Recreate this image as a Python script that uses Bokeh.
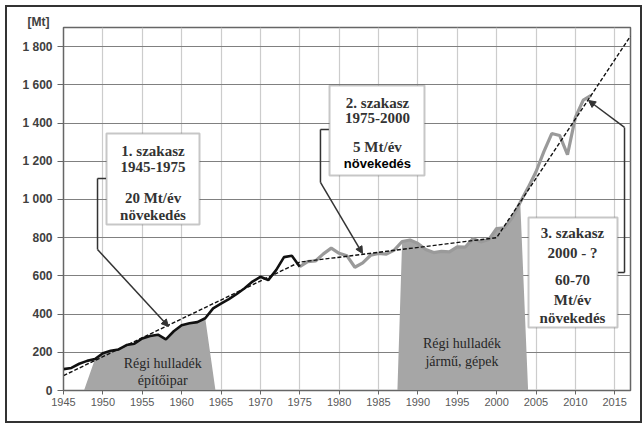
from bokeh.plotting import figure
from bokeh.layouts import column
from bokeh.models import Range1d, FixedTicker, Label, BoxAnnotation, Arrow, NormalHead
from bokeh.embed import file_html
from bokeh.resources import INLINE

# ---- data ----
years_p1 = list(range(1945, 1976))
prod_p1 = [112, 118, 140, 155, 165, 195, 208, 215, 238, 245, 272, 285, 292, 268, 310,
           342, 352, 358, 378, 430, 455, 478, 505, 535, 570, 595, 578, 630, 698, 705, 648]
years_p2 = list(range(1975, 2013))
prod_p2 = [648, 675, 678, 715, 745, 718, 705, 645, 668, 708, 718, 714, 735, 780, 788,
           770, 738, 722, 728, 726, 752, 750, 795, 778, 790, 848, 852, 905, 985, 1062,
           1145, 1250, 1345, 1335, 1235, 1430, 1520, 1545]
trend_years = [1945, 1975, 2000, 2017]
trend_vals = [78, 672, 800, 1855]

y_ticks = [0, 200, 400, 600, 800, 1000, 1200, 1400, 1600, 1800]
y_tick_labels = ["0", "200", "400", "600", "800", "1 000", "1 200", "1 400", "1 600", "1 800"]
x_ticks = [1945, 1950, 1955, 1960, 1965, 1970, 1975, 1980, 1985, 1990, 1995, 2000, 2005, 2010, 2015]

# shaded "old scrap" areas: edges + the production curve between them
area1_edges = (1947.6, 1964.3)
area1_span = (1949, 1963)
area2_edges = (1987.4, 2004.0)
area2_span = (1988, 2003)

def area(edges, span, years, vals):
    xs = [edges[0]]
    ys = [0]
    for yv, v in zip(years, vals):
        if span[0] <= yv <= span[1]:
            xs.append(yv)
            ys.append(v)
    xs.append(edges[1])
    ys.append(0)
    return xs, ys

a1x, a1y = area(area1_edges, area1_span, years_p1, prod_p1)
a2x, a2y = area(area2_edges, area2_span, years_p2, prod_p2)

# ---- figure ----
p = figure(width=633, height=414, output_backend="svg", toolbar_location=None,
           x_range=Range1d(1945, 2017), y_range=Range1d(0, 1900),
           min_border_left=56, min_border_right=10, min_border_top=20, min_border_bottom=31,
           title="[Mt]")
p.title.align = "left"
p.title.offset = -36
p.title.standoff = -2
p.title.text_font = "Liberation Sans"
p.title.text_font_size = "12px"
p.title.text_font_style = "bold"
p.title.text_color = "#404040"

p.background_fill_color = "white"
p.border_fill_color = "white"
p.outline_line_color = "#666666"
p.outline_line_width = 1.5

p.xaxis.ticker = FixedTicker(ticks=x_ticks)
p.yaxis.ticker = FixedTicker(ticks=y_ticks)
p.yaxis.major_label_overrides = {t: l for t, l in zip(y_ticks, y_tick_labels)}
p.xgrid.ticker = FixedTicker(ticks=x_ticks)
p.ygrid.ticker = FixedTicker(ticks=y_ticks)
p.xgrid.grid_line_color = "#cccccc"
p.ygrid.grid_line_color = "#808080"
p.xgrid.grid_line_width = 1.2
p.ygrid.grid_line_width = 1.2

for ax in (p.xaxis, p.yaxis):
    ax.axis_line_color = "#666666"
    ax.major_tick_line_color = "#666666"
    ax.minor_tick_line_color = None
    ax.major_tick_in = 0
    ax.major_label_text_font = "Liberation Sans"
p.yaxis.major_tick_out = 6
p.yaxis.major_label_standoff = 5
p.yaxis.major_label_text_font_style = "bold"
p.yaxis.major_label_text_font_size = "12px"
p.yaxis.major_label_text_color = "#404040"
p.xaxis.major_tick_out = 4
p.xaxis.major_label_standoff = 3
p.xaxis.major_label_text_font_size = "11px"
p.xaxis.major_label_text_color = "#595959"

# shaded areas
p.patch(a1x, a1y, fill_color="#a6a6a6", line_color=None)
p.patch(a2x, a2y, fill_color="#a6a6a6", line_color=None)

# series
p.line(years_p2, prod_p2, line_color="#9a9a9a", line_width=3.2)
p.line(years_p1, prod_p1, line_color="#111111", line_width=2.6)
p.line(trend_years, trend_vals, line_color="#111111", line_width=1.4, line_dash="4 2")

serif = "Liberation Serif"
sans = "Liberation Sans"

def lab(x, y, t, font=serif, size="15px", color="#333333", style="bold"):
    p.add_layout(Label(x=x, y=y, text=t, text_font=font, text_font_size=size,
                       text_color=color, text_font_style=style,
                       text_align="center", text_baseline="middle"))

# area labels
lab(1957.6, 140, "Régi hulladék", style="normal", size="14px", color="#262626")
lab(1957.6, 52, "építőipar", style="normal", size="14px", color="#262626")
lab(1995.6, 244, "Régi hulladék", style="normal", size="14px", color="#262626")
lab(1995.6, 153, "jármű, gépek", style="normal", size="14px", color="#262626")

# leader lines
def seg(x0, y0, x1, y1, head=False):
    p.add_layout(Arrow(x_start=x0, y_start=y0, x_end=x1, y_end=y1,
                       line_color="#333333", line_width=1.5,
                       end=NormalHead(size=7, fill_color="#333333", line_color="#333333") if head else None))

seg(1949.32, 1110, 1950.4, 1110)
seg(1949.32, 1110, 1949.32, 738)
seg(1949.32, 738, 1958.33, 335, head=True)

seg(1977.63, 1366, 1978.7, 1366)
seg(1977.63, 1366, 1977.63, 1089)
seg(1977.63, 1089, 1982.97, 717, head=True)

seg(2015.4, 618, 2016.24, 618)
seg(2016.24, 618, 2016.24, 1377)
seg(2016.24, 1377, 2011.67, 1518, head=True)

# boxes
for l, r, b, t in [(1950.46, 1962.27, 869, 1345), (1978.78, 1990.84, 1125, 1596), (2004.05, 2015.35, 330, 905)]:
    p.add_layout(BoxAnnotation(left=l, right=r, bottom=b, top=t, fill_color="white", fill_alpha=1,
                               line_color="#444444", line_width=2, level="annotation"))

lab(1956.37, 1256, "1. szakasz")
lab(1956.37, 1172, "1945-1975")
lab(1956.37, 1005, "20 Mt/év")
lab(1956.37, 916, "növekedés")

lab(1984.87, 1507, "2. szakasz")
lab(1984.87, 1424, "1975-2000")
lab(1984.87, 1272, "5 Mt/év")
lab(1984.87, 1188, "növekedés", font=sans, size="13px", color="#000000")

lab(2009.63, 822, "3. szakasz")
lab(2009.63, 722, "2000 - ?")
lab(2009.63, 576, "60-70")
lab(2009.63, 476, "Mt/év")
lab(2009.63, 377, "növekedés")

layout = column(p, styles={"margin": "5px", "border": "2px solid #333333"})

open("out.html", "w").write(file_html(layout, INLINE))
